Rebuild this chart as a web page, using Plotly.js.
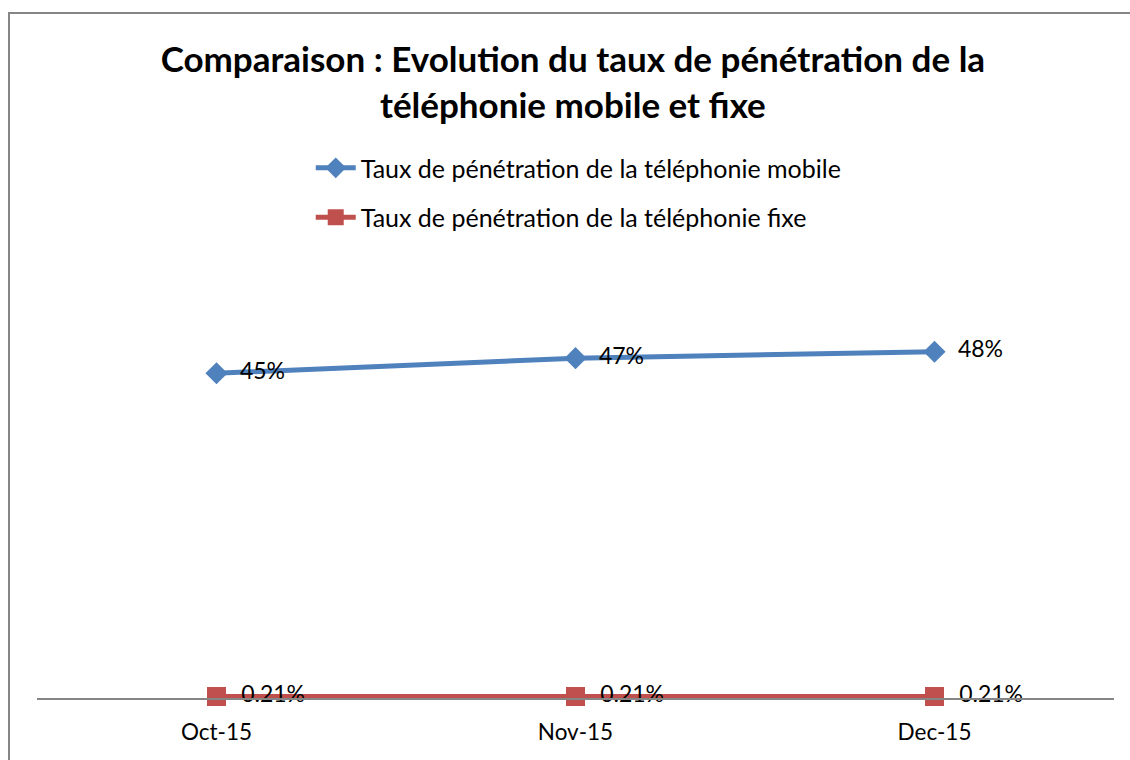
<!DOCTYPE html>
<html>
<head>
<meta charset="utf-8">
<script src="https://cdn.plot.ly/plotly-3.0.1.min.js"></script>
<style>
  body { margin: 0; background: #fff; }
  #wrap { position: relative; width: 1130px; height: 760px; overflow: hidden; }
  #frame { position: absolute; left: 8px; top: 12px; width: 1200px; height: 800px;
           border-left: 2px solid #868686; border-top: 2px solid #868686; pointer-events: none; }
  #myDiv { position: absolute; left: 0; top: 0; width: 1130px; height: 760px; }
</style>
</head>
<body>
<div id="wrap">
  <div id="myDiv"></div>
  <div id="frame"></div>
</div>
<script>
// months
var months = ['Oct-15', 'Nov-15', 'Dec-15'];
// penetration rates
var mobile = [0.451, 0.472, 0.481];
var fixe = [0.0021, 0.0021, 0.0021];

var font = 'Lato, "Open Sans", sans-serif';
var pad = '\u00a0\u00a0';

var trace1 = {
    x: months,
    y: mobile,
    mode: 'lines+markers+text',
    name: 'Taux de pénétration de la téléphonie mobile',
    line: {color: '#4F81BD', width: 5},
    marker: {symbol: 'diamond', size: 17, color: '#4F81BD'},
    texttemplate: pad + '%{y:.0%}',
    textposition: 'middle right',
    textfont: {size: 23, color: '#000'},
    legendgroup: 'a',
    cliponaxis: false
};

var trace2 = {
    x: months,
    y: fixe,
    mode: 'lines+markers+text',
    name: 'Taux de pénétration de la téléphonie fixe',
    line: {color: '#C0504D', width: 5},
    marker: {symbol: 'square', size: 19, color: '#C0504D'},
    texttemplate: pad + '%{y:.2%}',
    textposition: 'middle right',
    textfont: {size: 23, color: '#000'},
    legendgroup: 'b',
    cliponaxis: false
};

var data = [trace1, trace2];

var layout = {
    width: 1130,
    height: 760,
    margin: {l: 37, r: 16, t: 266, b: 62},
    paper_bgcolor: 'rgba(0,0,0,0)',
    plot_bgcolor: 'rgba(0,0,0,0)',
    font: {family: font, color: '#000'},
    title: {
        text: '<b>Comparaison : Evolution du taux de pénétration de la<br>téléphonie mobile et fixe</b>',
        font: {family: font, size: 35, color: '#000'},
        x: 0.507,
        xanchor: 'center',
        y: 0.905,
        yanchor: 'top'
    },
    showlegend: true,
    legend: {
        x: 0.503,
        xanchor: 'center',
        y: 1.28,
        yanchor: 'top',
        font: {family: font, size: 25, color: '#000'},
        traceorder: 'grouped',
        tracegroupgap: 14,
        itemwidth: 40
    },
    xaxis: {
        type: 'category',
        range: [-0.5, 2.5],
        showline: true,
        linecolor: '#868686',
        linewidth: 2,
        showgrid: false,
        zeroline: false,
        ticks: '',
        ticklabelstandoff: 13,
        tickfont: {family: font, size: 22.5, color: '#000'}
    },
    yaxis: {
        range: [0, 0.6],
        showgrid: false,
        zeroline: false,
        showline: false,
        showticklabels: false
    }
};

Plotly.newPlot('myDiv', data, layout, {displayModeBar: false});
</script>
</body>
</html>
